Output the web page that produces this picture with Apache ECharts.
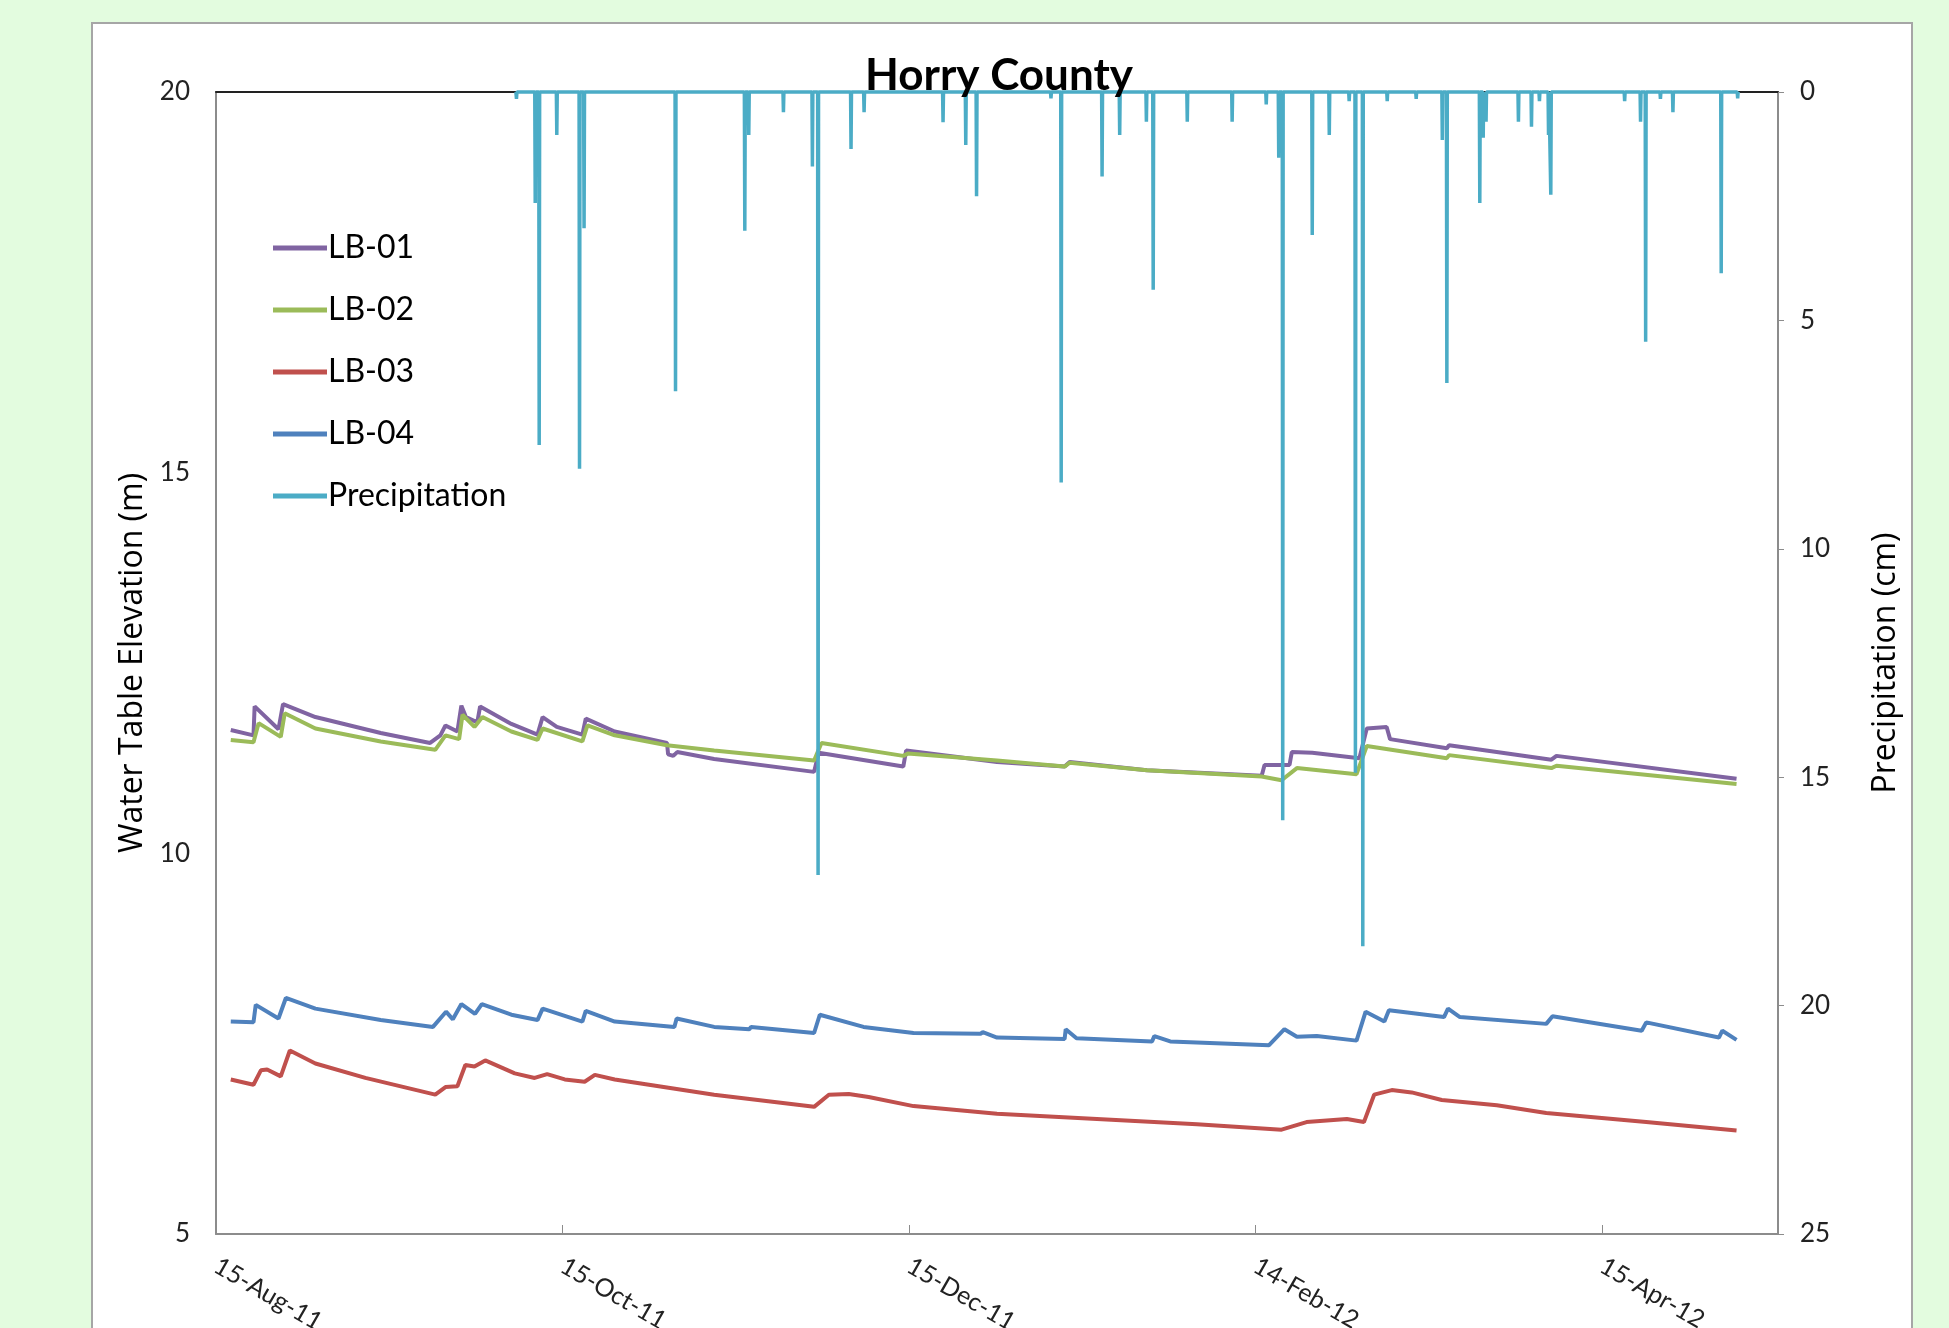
<!DOCTYPE html>
<html>
<head>
<meta charset="utf-8">
<script src="https://cdn.jsdelivr.net/npm/echarts@6/dist/echarts.min.js"></script>
<style>
  html, body { margin: 0; padding: 0; background: #E3FCDF; }
  #box { position: absolute; left: 91px; top: 22px; width: 1822px; height: 1320px; background: #ffffff; border: 2px solid #A6A6A6; box-sizing: border-box; }
  #chart { position: absolute; left: 0; top: 0; width: 1949px; height: 1328px; }
</style>
</head>
<body>
<div id="box"></div>
<div id="chart"></div>
<script>
// x values are days after 15-Aug-11
const xTickLabels = ['15-Aug-11', '15-Oct-11', '15-Dec-11', '14-Feb-12', '15-Apr-12'];
const leftTicks = [5, 10, 15, 20];
const rightTicks = [0, 5, 10, 15, 20, 25];

const lb01 = [[2.6,11.62],[6.6,11.55],[6.8,11.93],[11.0,11.63],[11.8,11.96],[17.5,11.79],[29.0,11.58],[37.7,11.45],[39.5,11.55],[40.4,11.68],[42.5,11.60],[43.2,11.94],[44.0,11.79],[46.0,11.72],[46.5,11.93],[52.0,11.70],[56.6,11.56],[57.5,11.79],[60.0,11.66],[64.5,11.56],[65.1,11.77],[70.2,11.60],[79.4,11.45],[79.6,11.30],[80.5,11.28],[81.2,11.33],[87.7,11.24],[105.3,11.07],[106.1,11.32],[121.0,11.14],[121.5,11.35],[137.5,11.20],[149.4,11.14],[150.3,11.20],[163.9,11.09],[184.1,11.02],[184.6,11.16],[189.0,11.16],[189.4,11.33],[193.0,11.32],[201.3,11.25],[202.6,11.64],[206.1,11.66],[206.7,11.50],[216.7,11.38],[217.1,11.42],[235.1,11.23],[236.0,11.28],[267.7,10.98]];
const lb02 = [[2.6,11.49],[6.6,11.46],[7.5,11.71],[11.4,11.53],[12.1,11.84],[17.5,11.64],[29.0,11.47],[38.6,11.36],[40.4,11.55],[42.8,11.50],[43.4,11.82],[45.5,11.66],[46.9,11.79],[52.0,11.60],[56.6,11.49],[57.5,11.64],[64.5,11.47],[65.4,11.68],[70.2,11.55],[79.4,11.42],[87.7,11.35],[105.3,11.22],[106.6,11.45],[121.0,11.28],[121.8,11.31],[137.5,11.22],[149.4,11.14],[150.3,11.19],[163.9,11.09],[184.1,11.01],[187.6,10.96],[190.3,11.12],[200.8,11.04],[202.6,11.41],[216.7,11.25],[217.1,11.29],[235.1,11.12],[236.0,11.15],[267.7,10.91]];
const lb03 = [[2.6,7.03],[6.6,6.96],[7.9,7.15],[9.0,7.16],[11.4,7.07],[13.0,7.41],[17.5,7.24],[26.3,7.05],[38.6,6.83],[40.4,6.93],[42.5,6.94],[43.9,7.22],[45.5,7.20],[47.4,7.28],[52.6,7.11],[56.1,7.05],[58.3,7.10],[61.4,7.03],[64.9,7.00],[66.7,7.09],[70.2,7.03],[87.7,6.83],[105.3,6.67],[107.9,6.83],[111.4,6.84],[114.9,6.80],[122.8,6.68],[137.5,6.58],[155.1,6.51],[172.7,6.44],[187.6,6.37],[192.0,6.47],[199.1,6.51],[202.1,6.47],[203.9,6.83],[207.0,6.89],[210.5,6.86],[215.8,6.76],[225.5,6.69],[234.2,6.59],[251.8,6.47],[267.7,6.36]];
const lb04 = [[2.6,7.79],[6.6,7.78],[7.0,8.01],[11.0,7.83],[12.3,8.10],[17.5,7.96],[29.0,7.81],[38.2,7.72],[40.5,7.92],[41.7,7.82],[43.2,8.02],[45.6,7.89],[46.8,8.02],[52.0,7.88],[56.6,7.81],[57.5,7.96],[64.5,7.79],[65.1,7.93],[70.2,7.79],[80.7,7.72],[81.1,7.83],[87.7,7.72],[93.9,7.69],[94.2,7.72],[105.3,7.64],[106.3,7.88],[114.0,7.72],[122.8,7.64],[134.6,7.63],[135.0,7.65],[137.5,7.58],[149.4,7.56],[149.6,7.69],[151.5,7.57],[164.8,7.53],[165.2,7.60],[168.0,7.53],[185.4,7.48],[188.1,7.69],[190.3,7.59],[193.8,7.60],[200.8,7.54],[202.4,7.92],[205.7,7.79],[206.5,7.94],[216.2,7.85],[216.9,7.96],[219.0,7.85],[234.2,7.76],[235.3,7.86],[251.0,7.67],[251.8,7.78],[264.6,7.58],[265.2,7.67],[267.7,7.55]];

// precipitation events: day, cm (zero rain between events)
const precipDays = [52.9,56.2,56.9,60.0,64.0,64.8,80.9,93.1,93.8,99.9,105.0,106.0,111.8,114.1,128.0,132.0,133.9,147.0,148.8,156.0,159.1,163.8,165.0,171.0,178.9,184.9,187.1,187.8,193.0,196.0,199.5,200.6,201.9,206.2,211.3,215.9,216.7,222.5,223.1,223.6,229.3,231.6,233.0,234.6,235.0,248.0,250.8,251.7,254.3,256.5,265.0,267.9];
const precipCm   = [0.15,2.43,7.73,0.94,8.25,2.98,6.55,3.04,0.94,0.44,1.63,17.14,1.25,0.44,0.66,1.16,2.28,0.14,8.55,1.85,0.94,0.65,4.33,0.65,0.65,0.27,1.44,15.94,3.13,0.94,0.2,14.9,18.7,0.2,0.15,1.05,6.37,2.43,1.0,0.65,0.65,0.76,0.2,0.94,2.25,0.2,0.65,5.47,0.15,0.44,3.97,0.14];
const precipStart = 52.8, precipEnd = 268.0;

const precipData = [[precipStart, 0]];
precipDays.forEach((d, i) => {
  precipData.push([d - 0.08, 0], [d, precipCm[i]], [d + 0.08, 0]);
});
precipData.push([precipEnd, 0]);

const FONT = 'Lato';
const chart = echarts.init(document.getElementById('chart'));
const lineSeries = (name, data, color) => ({
  name, type: 'line', data, showSymbol: false, symbol: 'none',
  lineStyle: { color, width: 4 }, itemStyle: { color },
  xAxisIndex: 0, yAxisIndex: 0, animation: false
});

chart.setOption({
  backgroundColor: 'transparent',
  animation: false,
  title: {
    text: 'Horry County', left: 994, top: 49, textAlign: 'center',
    textStyle: { fontFamily: FONT, fontWeight: 'bold', fontSize: 44, color: '#000' }
  },
  legend: {
    orient: 'vertical', left: 268, top: 226, icon: 'rect',
    itemWidth: 54, itemHeight: 5, itemGap: 28,
    textStyle: { fontFamily: FONT, fontSize: 32, color: '#000', lineHeight: 34, padding: [0, 0, 0, -4] },
    data: ['LB-01', 'LB-02', 'LB-03', 'LB-04', 'Precipitation']
  },
  grid: { left: 216, right: 171, top: 92, bottom: 94, containLabel: false, outerBoundsMode: 'none' },
  xAxis: [{
    type: 'value', min: 0, max: 275, interval: 61, position: 'bottom',
    axisLine: { show: true, onZero: false, lineStyle: { color: '#8C8C8C', width: 2 } },
    axisTick: { show: true, inside: true, length: 9, lineStyle: { color: '#8C8C8C', width: 1 } },
    splitLine: { show: false },
    axisLabel: {
      rotate: -30, margin: 30, showMaxLabel: false,
      fontFamily: FONT, fontSize: 25, color: '#222',
      formatter: v => (v % 61 === 0 && xTickLabels[v / 61] !== undefined) ? xTickLabels[v / 61] : ''
    }
  }, {
    type: 'value', min: 0, max: 275, position: 'top',
    axisLine: { show: true, onZero: false, lineStyle: { color: '#222', width: 2 } },
    axisTick: { show: false }, axisLabel: { show: false }, splitLine: { show: false }
  }],
  yAxis: [{
    type: 'value', min: 5, max: 20, interval: 5, position: 'left',
    name: 'Water Table Elevation (m)', nameLocation: 'middle', nameRotate: 90, nameGap: 62,
    nameTextStyle: { fontFamily: 'Open Sans', fontSize: 32, color: '#000' },
    axisLine: { show: true, onZero: false, lineStyle: { color: '#8C8C8C', width: 2 } },
    axisTick: { show: false }, minorTick: { show: false }, splitLine: { show: false },
    axisLabel: { margin: 26, fontFamily: FONT, fontSize: 26, color: '#222',
      formatter: v => leftTicks.includes(v) ? String(v) : '' }
  }, {
    type: 'value', min: 0, max: 25, interval: 5, position: 'right', inverse: true,
    name: 'Precipitation (cm)', nameLocation: 'middle', nameRotate: 90, nameGap: 92,
    nameTextStyle: { fontFamily: 'Open Sans', fontSize: 32, color: '#000' },
    axisLine: { show: true, onZero: false, lineStyle: { color: '#8C8C8C', width: 2 } },
    axisTick: { show: true, inside: false, length: 6, lineStyle: { color: '#8C8C8C' } }, splitLine: { show: false },
    axisLabel: { margin: 22, fontFamily: FONT, fontSize: 26, color: '#222',
      formatter: v => rightTicks.includes(v) ? String(v) : '' }
  }],
  series: [
    lineSeries('LB-01', lb01, '#8064A2'),
    lineSeries('LB-02', lb02, '#9BBB59'),
    lineSeries('LB-03', lb03, '#C0504D'),
    lineSeries('LB-04', lb04, '#4F81BD'),
    {
      name: 'Precipitation', type: 'line', data: precipData, showSymbol: false, symbol: 'none',
      xAxisIndex: 0, yAxisIndex: 1, clip: false,
      lineStyle: { color: '#4BACC6', width: 3.5 }, itemStyle: { color: '#4BACC6' }
    }
  ]
});
</script>
</body>
</html>
